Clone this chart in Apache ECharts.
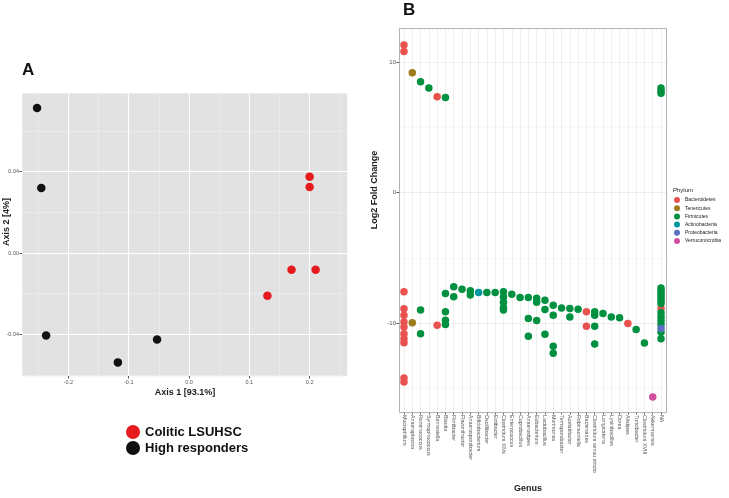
<!DOCTYPE html>
<html><head><meta charset="utf-8">
<script src="https://cdn.jsdelivr.net/npm/echarts@6/dist/echarts.min.js"></script>
<style>html,body{margin:0;padding:0;background:#fff}#c{width:729px;height:498px}</style>
</head><body><div id="c"></div>
<script>
// ---------- Panel A: PCoA ----------
const coliticAxis1 = [0.200, 0.200, 0.170, 0.210, 0.130];
const coliticAxis2 = [0.0375, 0.0325, -0.0082, -0.0082, -0.0210];
const highAxis1 = [-0.252, -0.245, -0.237, -0.118, -0.053];
const highAxis2 = [0.0713, 0.0320, -0.0406, -0.0538, -0.0426];
const axis1Ticks = [-0.2, -0.1, 0.0, 0.1, 0.2];
const axis2Ticks = [-0.04, 0.00, 0.04];

// ---------- Panel B: log2 fold change ----------
const genera = ['Mucispirillum','Anaeroplasma','Ruminococcus','Syntrophococcus','Barnesiella','Blautia','Flintibacter','Flavonifractor','Anaerosporobacter','Bifidobacterium','Oscillibacter','Extibacter','Clostridium XlVa','Enterococcus','Coprobacillus','Anaerostipes','Eubacterium','Lactobacillus','Murimonas','Terrisporobacter','Acetatifactor','Robinsoniella','Bacteroides','Clostridium sensu stricto','Longicatena','Lysinibacillus','Dorea','Alistipes','Turicibacter','Clostridium XVIII','Akkermansia','NA'];
const phyla = ['Bacteroidetes','Tenericutes','Firmicutes','Actinobacteria','Proteobacteria','Verrucomicrobia'];
const bacteroidetes = [
  ['Mucispirillum',11.3],['Mucispirillum',10.8],['Mucispirillum',-7.6],['Mucispirillum',-8.9],['Mucispirillum',-9.4],
  ['Mucispirillum',-9.9],['Mucispirillum',-10.3],['Mucispirillum',-10.8],['Mucispirillum',-11.2],['Mucispirillum',-11.5],
  ['Mucispirillum',-14.2],['Mucispirillum',-14.5],
  ['Barnesiella',7.34],['Barnesiella',-10.15],
  ['Bacteroides',-9.13],['Bacteroides',-10.23],
  ['Alistipes',-10.03],['NA',-8.87]
];
const tenericutes = [['Anaeroplasma',9.18],['Anaeroplasma',-9.97]];
const firmicutes = [
  ['Ruminococcus',8.49],['Ruminococcus',-9.0],['Ruminococcus',-10.8],
  ['Syntrophococcus',8.0],
  ['Blautia',7.27],['Blautia',-7.73],['Blautia',-9.13],['Blautia',-9.77],['Blautia',-10.1],
  ['Flintibacter',-7.22],['Flintibacter',-7.98],
  ['Flavonifractor',-7.4],
  ['Anaerosporobacter',-7.52],['Anaerosporobacter',-7.85],
  ['Oscillibacter',-7.65],['Extibacter',-7.65],
  ['Clostridium XlVa',-7.6],['Clostridium XlVa',-8.0],['Clostridium XlVa',-8.4],['Clostridium XlVa',-8.8],['Clostridium XlVa',-9.0],
  ['Enterococcus',-7.78],['Coprobacillus',-8.03],
  ['Anaerostipes',-8.03],['Anaerostipes',-9.64],['Anaerostipes',-11.0],
  ['Eubacterium',-8.1],['Eubacterium',-8.4],['Eubacterium',-9.8],
  ['Lactobacillus',-8.24],['Lactobacillus',-8.95],['Lactobacillus',-10.84],
  ['Murimonas',-8.62],['Murimonas',-9.39],['Murimonas',-11.76],['Murimonas',-12.3],
  ['Terrisporobacter',-8.83],
  ['Acetatifactor',-8.87],['Acetatifactor',-9.52],
  ['Robinsoniella',-8.93],
  ['Clostridium sensu stricto',-9.13],['Clostridium sensu stricto',-9.39],['Clostridium sensu stricto',-10.23],['Clostridium sensu stricto',-11.6],
  ['Longicatena',-9.26],['Lysinibacillus',-9.52],['Dorea',-9.59],
  ['Turicibacter',-10.49],['Clostridium XVIII',-11.51],
  ['NA',8.0],['NA',7.8],['NA',7.6],
  ['NA',-7.3],['NA',-7.5],['NA',-7.7],['NA',-7.9],['NA',-8.1],['NA',-8.3],['NA',-8.5],
  ['NA',-9.2],['NA',-9.5],['NA',-9.8],['NA',-10.1],['NA',-10.7],['NA',-11.2]
];
const actinobacteria = [['Bifidobacterium',-7.65]];
const proteobacteria = [['NA',-10.4]];
const verrucomicrobia = [['Akkermansia',-15.65]];
const lfcTicks = [-10, 0, 10];

const phylumData = [bacteroidetes, tenericutes, firmicutes, actinobacteria, proteobacteria, verrucomicrobia];
const phylumColors = ['#e8534f','#9e7b1c','#009140','#0098a0','#5b6fc0','#d2519f'];

const FONT = 'Liberation Sans';
const near = (v, arr) => arr.some(t => Math.abs(v - t) < 1e-6);
const genusIdx = genera.map((g, i) => i);

const chart = echarts.init(document.getElementById('c'), null, {renderer: 'canvas'});
const bSeries = phyla.map((p, k) => ({
  name: p, type: 'scatter', xAxisIndex: 2, yAxisIndex: 3,
  symbolSize: 7.5, itemStyle: {color: phylumColors[k], opacity: 1},
  data: phylumData[k].map(d => [genera.indexOf(d[0]), d[1]])
}));
const noLine = {show: false, onZero: false};
const tick = vals => ({show: true, length: 2.5, customValues: vals, lineStyle: {color: '#555'}});

const option = {
  animation: false,
  textStyle: {fontFamily: FONT},
  grid: [
    {left: 22, top: 93, width: 325, height: 283, show: true, backgroundColor: '#e2e2e2', borderWidth: 0},
    {left: 399, top: 28, width: 267, height: 384, show: true, backgroundColor: '#ffffff', borderWidth: 0}
  ],
  xAxis: [
    {gridIndex: 0, type: 'value', position: 'bottom', min: -0.277, max: 0.262, minInterval: 0.05, maxInterval: 0.05, splitNumber: 10,
     axisLine: noLine, axisTick: {show: false}, axisLabel: {show: false},
     splitLine: {show: true, lineStyle: {color: '#f2f2f2', width: 0.6}}},
    {gridIndex: 0, type: 'value', position: 'bottom', min: -0.277, max: 0.262, minInterval: 0.1, maxInterval: 0.1, splitNumber: 5,
     axisLine: noLine, axisTick: tick(axis1Ticks),
     axisLabel: {fontSize: 5.5, color: '#555', margin: 3, customValues: axis1Ticks,
       formatter: v => near(v, axis1Ticks) ? v.toFixed(1) : ''},
     splitLine: {show: true, lineStyle: {color: '#ffffff', width: 1.1}}},
    {gridIndex: 1, type: 'value', position: 'bottom', min: -0.6, max: genera.length - 0.4, minInterval: 1, maxInterval: 1, splitNumber: 32,
     axisLine: noLine, axisTick: tick(genusIdx),
     axisLabel: {fontSize: 5.3, color: '#555', margin: 3, rotate: -90, customValues: genusIdx,
       formatter: v => { const r = Math.round(v); return (Math.abs(v - r) < 1e-6 && r >= 0 && r < genera.length) ? genera[r] : ''; }},
     splitLine: {show: true, lineStyle: {color: '#ebebeb', width: 0.8}}}
  ],
  yAxis: [
    {gridIndex: 0, type: 'value', position: 'left', min: -0.0605, max: 0.0787, minInterval: 0.02, maxInterval: 0.02, splitNumber: 7,
     axisLine: noLine, axisTick: {show: false}, axisLabel: {show: false},
     splitLine: {show: true, lineStyle: {color: '#f2f2f2', width: 0.6}}},
    {gridIndex: 0, type: 'value', position: 'left', min: -0.0605, max: 0.0787, minInterval: 0.04, maxInterval: 0.04, splitNumber: 4,
     axisLine: noLine, axisTick: tick(axis2Ticks),
     axisLabel: {fontSize: 5.5, color: '#555', margin: 3, customValues: axis2Ticks,
       formatter: v => near(v, axis2Ticks) ? v.toFixed(2) : ''},
     splitLine: {show: true, lineStyle: {color: '#ffffff', width: 1.1}}},
    {gridIndex: 1, type: 'value', position: 'left', min: -16.8, max: 12.6, minInterval: 5, maxInterval: 5, splitNumber: 6,
     axisLine: noLine, axisTick: {show: false}, axisLabel: {show: false},
     splitLine: {show: true, lineStyle: {color: '#f5f5f5', width: 0.6}}},
    {gridIndex: 1, type: 'value', position: 'left', min: -16.8, max: 12.6, minInterval: 10, maxInterval: 10, splitNumber: 3,
     axisLine: noLine, axisTick: tick(lfcTicks),
     axisLabel: {fontSize: 6, color: '#555', margin: 3, customValues: lfcTicks,
       formatter: v => near(v, lfcTicks) ? String(Math.round(v)) : ''},
     splitLine: {show: true, lineStyle: {color: '#ebebeb', width: 0.8}}}
  ],
  legend: [
    {data: ['Colitic LSUHSC', 'High responders'], orient: 'vertical', left: 126, top: 425, padding: 0,
     itemWidth: 14, itemHeight: 14, itemGap: 2, icon: 'circle',
     textStyle: {fontSize: 13, fontWeight: 'bold', color: '#111', fontFamily: FONT}},
    {data: phyla, orient: 'vertical', left: 674, top: 197, padding: 0,
     itemWidth: 6, itemHeight: 6, itemGap: 2.2, icon: 'circle',
     textStyle: {fontSize: 5, color: '#222', fontFamily: FONT}}
  ],
  series: [
    {name: 'Colitic LSUHSC', type: 'scatter', xAxisIndex: 1, yAxisIndex: 1, symbolSize: 8.5,
     itemStyle: {color: '#e41a1c', opacity: 1}, data: coliticAxis1.map((x, i) => [x, coliticAxis2[i]])},
    {name: 'High responders', type: 'scatter', xAxisIndex: 1, yAxisIndex: 1, symbolSize: 8.5,
     itemStyle: {color: '#111111', opacity: 1}, data: highAxis1.map((x, i) => [x, highAxis2[i]])}
  ].concat(bSeries),
  graphic: [
    {type: 'rect', z: 100, silent: true, shape: {x: 399.5, y: 28.5, width: 267, height: 384},
     style: {fill: 'none', stroke: '#b3b3b3', lineWidth: 1}},
    {type: 'text', x: 22, y: 70, style: {text: 'A', font: 'bold 17px ' + FONT, fill: '#111', verticalAlign: 'middle'}},
    {type: 'text', x: 403, y: 10, style: {text: 'B', font: 'bold 17px ' + FONT, fill: '#111', verticalAlign: 'middle'}},
    {type: 'text', x: 185, y: 393, style: {text: 'Axis 1 [93.1%]', font: 'bold 9px ' + FONT, fill: '#222', align: 'center', verticalAlign: 'middle'}},
    {type: 'text', x: 7, y: 222, rotation: Math.PI / 2, style: {text: 'Axis 2 [4%]', font: 'bold 9px ' + FONT, fill: '#222', align: 'center', verticalAlign: 'middle'}},
    {type: 'text', x: 375, y: 190, rotation: Math.PI / 2, style: {text: 'Log2 Fold Change', font: 'bold 9px ' + FONT, fill: '#222', align: 'center', verticalAlign: 'middle'}},
    {type: 'text', x: 528, y: 489, style: {text: 'Genus', font: 'bold 9px ' + FONT, fill: '#222', align: 'center', verticalAlign: 'middle'}},
    {type: 'text', x: 673, y: 190, style: {text: 'Phylum', font: '6px ' + FONT, fill: '#222', verticalAlign: 'middle'}}
  ]
};
chart.setOption(option);
</script>
</body></html>
